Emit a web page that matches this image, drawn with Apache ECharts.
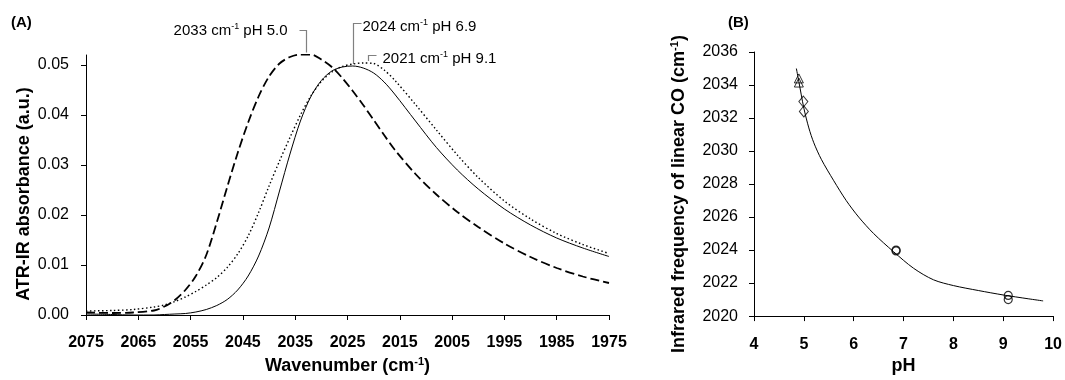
<!DOCTYPE html>
<html><head><meta charset="utf-8">
<script src="https://cdn.jsdelivr.net/npm/echarts@6/dist/echarts.min.js"></script>
<style>html,body{margin:0;padding:0;background:#fff}#c{width:1065px;height:380px}</style>
</head><body><div id="c"></div>
<script>
// ---- Panel A data: ATR-IR spectra ----
const wavenumbers = [2075,2070,2066,2062,2060,2058,2056,2054,2052,2050,2048,2046,2044,2042,2040,2038,2036,2034,2032,2030,2028,2026,2024,2022,2020,2018,2016,2012,2008,2004,2000,1995,1990,1985,1980,1975];
const absPH50 = [0.0005,0.0004,0.0005,0.0009,0.0017,0.0030,0.0050,0.0078,0.0120,0.0185,0.0256,0.0324,0.0385,0.0437,0.0477,0.0503,0.0516,0.0521,0.0521,0.0511,0.0496,0.0474,0.0448,0.0420,0.0390,0.0360,0.0331,0.0282,0.0241,0.0206,0.0176,0.0143,0.0116,0.0094,0.0077,0.0064];
const absPH69 = [0.0002,0.0001,0.0000,0.0000,0.0001,0.0002,0.0003,0.0006,0.0011,0.0019,0.0031,0.0050,0.0078,0.0118,0.0174,0.0248,0.0322,0.0388,0.0437,0.0469,0.0488,0.0496,0.0498,0.0494,0.0484,0.0466,0.0442,0.0388,0.0335,0.0290,0.0252,0.0212,0.0180,0.0154,0.0134,0.0117];
const absPH91 = [0.0008,0.0009,0.0011,0.0016,0.0020,0.0027,0.0036,0.0047,0.0060,0.0075,0.0095,0.0122,0.0158,0.0205,0.0258,0.0308,0.0355,0.0400,0.0438,0.0467,0.0486,0.0497,0.0502,0.0504,0.0503,0.0490,0.0470,0.0421,0.0370,0.0320,0.0275,0.0228,0.0192,0.0163,0.0141,0.0123];
const wnTicks = [2075,2065,2055,2045,2035,2025,2015,2005,1995,1985,1975];
const absTicks = [0,0.01,0.02,0.03,0.04,0.05];
const peakWn = [2033, 2024, 2021];
const peakPH = ['5.0', '6.9', '9.1'];

// ---- Panel B data: CO frequency vs pH ----
const phTriangle = [4.9, 4.9];
const freqTriangle = [2034.4, 2034.15];
const phDiamond = [4.99, 5.0];
const freqDiamond = [2033.0, 2032.4];
const phCircle = [6.85, 6.85, 9.1, 9.1];
const freqCircle = [2024.0, 2023.95, 2021.25, 2021.0];
const phFit = [4.85,4.9,5.0,5.1,5.2,5.35,5.6,5.85,6.1,6.4,6.8,7.2,7.6,8.0,8.5,9.0,9.5,9.8];
const freqFit = [2035.0,2034.2,2032.6,2031.4,2030.5,2029.5,2028.2,2027.0,2026.0,2025.0,2023.9,2022.9,2022.2,2021.85,2021.55,2021.28,2021.05,2020.92];

const FONT = 'Liberation Sans, Arial, sans-serif';
const zip = (a, b) => a.map((v, i) => [v, b[i]]);
const supRich = (size) => ({
  b: {fontFamily: FONT, fontWeight: 'bold', fontSize: size, color: '#000', lineHeight: size + 2},
  s: {fontFamily: FONT, fontWeight: 'bold', fontSize: Math.round(size * 0.6), color: '#000', verticalAlign: 'top', lineHeight: 10}
});

const chart = echarts.init(document.getElementById('c'), null, {renderer: 'canvas'});
const axisLine = {show: true, lineStyle: {color: '#000', width: 1}};
const axisTick = {show: true, inside: false, length: 5, lineStyle: {color: '#000', width: 1}};
const plain = v => String(v);

chart.setOption({
  animation: false,
  backgroundColor: '#fff',
  grid: [
    {left: 86, top: 55, width: 523, height: 271},
    {left: 754, top: 52, width: 302, height: 274}
  ],
  xAxis: [
    {type: 'value', gridIndex: 0, inverse: true, min: 1975, max: 2075,
     axisLine, axisTick: Object.assign({}, axisTick, {customValues: wnTicks}),
     axisLabel: {customValues: wnTicks, formatter: plain, fontFamily: FONT, fontWeight: 'bold', fontSize: 16, color: '#000', margin: 20},
     splitLine: {show: false},
     name: '{b|Wavenumber (cm}{s|-1}{b|)}', nameLocation: 'middle', nameGap: 41,
     nameTextStyle: {rich: supRich(18)}},
    {type: 'value', gridIndex: 1, min: 4, max: 10, interval: 1,
     axisLine, axisTick,
     axisLabel: {formatter: plain, fontFamily: FONT, fontWeight: 'bold', fontSize: 16, color: '#000', margin: 20},
     splitLine: {show: false},
     name: 'pH', nameLocation: 'middle', nameGap: 30,
     nameTextStyle: {fontFamily: FONT, fontWeight: 'bold', fontSize: 18, color: '#000'}}
  ],
  yAxis: [
    {type: 'value', gridIndex: 0, min: 0, max: 0.052,
     axisLine, axisTick: Object.assign({}, axisTick, {customValues: absTicks}),
     axisLabel: {customValues: absTicks, formatter: v => v.toFixed(2), fontFamily: FONT, fontSize: 16, color: '#000', margin: 17},
     splitLine: {show: false},
     name: '{b|ATR-IR absorbance (a.u.)}', nameLocation: 'middle', nameGap: 52, nameRotate: 90,
     nameTextStyle: {rich: supRich(18), padding: [0, 18, 0, 0]}},
    {type: 'value', gridIndex: 1, min: 2020, max: 2036, interval: 2,
     axisLine, axisTick,
     axisLabel: {formatter: plain, fontFamily: FONT, fontSize: 16, color: '#000', margin: 16},
     splitLine: {show: false},
     name: '{b|Infrared frequency of linear CO (cm}{s|-1}{b|)}', nameLocation: 'middle', nameGap: 65, nameRotate: 90,
     nameTextStyle: {rich: supRich(18), padding: [0, 20, 0, 0]}}
  ],
  series: [
    {type: 'line', name: 'pH 5.0', xAxisIndex: 0, yAxisIndex: 0, data: zip(wavenumbers, absPH50),
     showSymbol: false, smooth: 0.3, lineStyle: {color: '#000', width: 1.8, type: [9, 4]}},
    {type: 'line', name: 'pH 6.9', xAxisIndex: 0, yAxisIndex: 0, data: zip(wavenumbers, absPH69),
     showSymbol: false, smooth: 0.3, lineStyle: {color: '#000', width: 1}},
    {type: 'line', name: 'pH 9.1', xAxisIndex: 0, yAxisIndex: 0, data: zip(wavenumbers, absPH91),
     showSymbol: false, smooth: 0.3, lineStyle: {color: '#000', width: 1.4, type: [1.5, 2.5]}},
    {type: 'line', name: 'fit', xAxisIndex: 1, yAxisIndex: 1, data: zip(phFit, freqFit),
     showSymbol: false, smooth: 0.3, lineStyle: {color: '#000', width: 1}},
    {type: 'scatter', xAxisIndex: 1, yAxisIndex: 1, data: zip(phTriangle, freqTriangle),
     symbol: 'triangle', symbolSize: [9, 9], itemStyle: {color: 'rgba(0,0,0,0)', borderColor: '#000', borderWidth: 1}},
    {type: 'scatter', xAxisIndex: 1, yAxisIndex: 1, data: zip(phDiamond, freqDiamond),
     symbol: 'diamond', symbolSize: [9, 11], itemStyle: {color: 'rgba(0,0,0,0)', borderColor: '#000', borderWidth: 1}},
    {type: 'scatter', xAxisIndex: 1, yAxisIndex: 1, data: zip(phCircle, freqCircle),
     symbol: 'circle', symbolSize: 8, itemStyle: {color: 'rgba(0,0,0,0)', borderColor: '#000', borderWidth: 1.2}}
  ]
});

// ---- annotations computed through the chart's own scales ----
const seriesAbs = [absPH50, absPH69, absPH91];
const labelRich = {
  a: {fontFamily: FONT, fontSize: 15, color: '#000', lineHeight: 17},
  s: {fontFamily: FONT, fontSize: 9, color: '#000', verticalAlign: 'top', lineHeight: 10}
};
const gray = {stroke: '#808080', lineWidth: 1.2};
const graphics = [
  {type: 'text', left: 11, top: 15, style: {text: '(A)', font: 'bold 15px ' + FONT, fill: '#000'}},
  {type: 'text', left: 728, top: 15, style: {text: '(B)', font: 'bold 15px ' + FONT, fill: '#000'}}
];
const levels = [30, 23, 55];
peakWn.forEach((wn, i) => {
  const peak = Math.max.apply(null, seriesAbs[i]);
  const p = chart.convertToPixel({xAxisIndex: 0, yAxisIndex: 0}, [wn, peak]);
  const x = Math.round(p[0]) + 0.5, yb = p[1] - 2, yt = levels[i] + 0.5;
  const text = '{a|' + wn + ' cm}{s|-1}{a| pH ' + peakPH[i] + '}';
  if (i === 0) {
    graphics.push({type: 'polyline', shape: {points: [[x - 7, yt], [x, yt], [x, yb]]}, style: Object.assign({fill: null}, gray)});
    graphics.push({type: 'text', x: x - 19, y: yt, style: {text, rich: labelRich, align: 'right', verticalAlign: 'middle'}});
  } else {
    graphics.push({type: 'polyline', shape: {points: [[x + 8, yt], [x, yt], [x, yb]]}, style: Object.assign({fill: null}, gray)});
    graphics.push({type: 'text', x: x + (i === 1 ? 9 : 14), y: yt + 3, style: {text, rich: labelRich, align: 'left', verticalAlign: 'middle'}});
  }
});
chart.setOption({graphic: graphics});
</script></body></html>
